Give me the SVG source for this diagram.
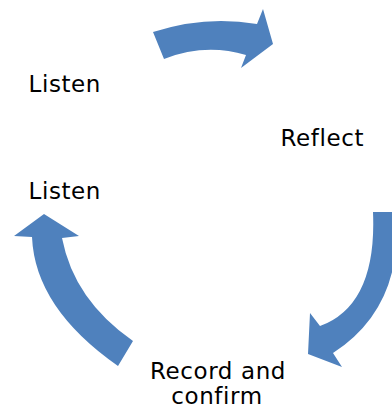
<svg xmlns="http://www.w3.org/2000/svg" width="392" height="408" viewBox="0 0 392 408">
  <style>
    .arrow { fill: #4F81BD; stroke: none; }
    .label { font-family: "DejaVu Sans", Verdana, sans-serif; font-size: 23px; letter-spacing: 0.6px; fill: #000000; }
  </style>
  <rect width="392" height="408" fill="#FFFFFF"/>

  <!-- curved cycle arrows -->
  <g id="connectors">
    <path id="arrow-top" class="arrow" d="M153,32 Q205,15 257,24 L263,9 L273,44 L241,68 L246,55 Q205,43 164,59 Z"/>
    <path id="arrow-right" class="arrow" d="M373,212 L396,212 Q404,307 333,353 L342,367 L308,354 L310,313 L320,326 Q377,305 373,212 Z"/>
    <path id="arrow-left" class="arrow" d="M133,341 L118,366 Q35,308 32,237 L14,236 L44,214 L79,236 L62,238 Q74,300 133,341 Z"/>
  </g>

  <g id="listen-top">
    <text class="label" x="28.5" y="91.5">Listen</text>
  </g>
  <g id="reflect">
    <text class="label" x="280.5" y="145.5">Reflect</text>
  </g>
  <g id="record-confirm">
    <text class="label" x="218" y="379" text-anchor="middle">Record and</text>
    <text class="label" x="217" y="404" text-anchor="middle">confirm</text>
  </g>
  <g id="listen-left">
    <text class="label" x="28.5" y="199">Listen</text>
  </g>
</svg>
